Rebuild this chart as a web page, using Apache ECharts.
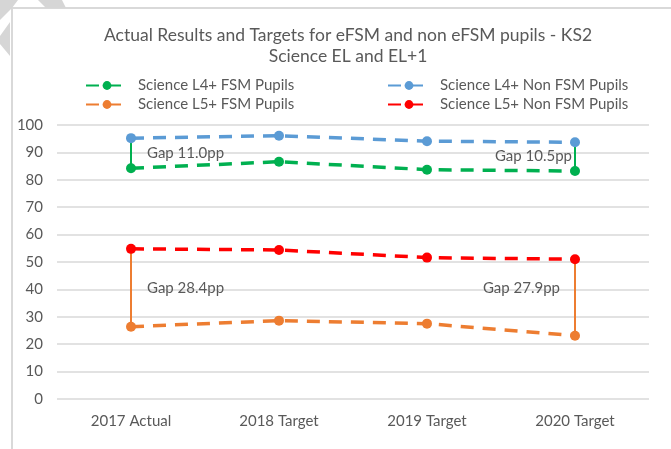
<!DOCTYPE html>
<html>
<head>
<meta charset="utf-8">
<script src="https://cdn.jsdelivr.net/npm/echarts@6/dist/echarts.min.js"></script>
<style>
  html, body { margin: 0; padding: 0; background: #fff; }
  #chart { width: 671px; height: 449px; }
</style>
</head>
<body>
<div id="chart"></div>
<script>
// categories and values
const categories = ['2017 Actual', '2018 Target', '2019 Target', '2020 Target'];
const l4Fsm = [84.2, 86.6, 83.7, 83.2];
const l4NonFsm = [95.2, 96.1, 94.1, 93.7];
const l5Fsm = [26.4, 28.6, 27.5, 23.1];
const l5NonFsm = [54.8, 54.4, 51.6, 51.0];

const names = ['Science L4+ FSM Pupils', 'Science L4+ Non FSM Pupils',
               'Science L5+ FSM Pupils', 'Science L5+ Non FSM Pupils'];
const colors = ['#00B050', '#5B9BD5', '#ED7D31', '#FF0000'];

const font = 'Lato, "Open Sans", sans-serif';
const textColor = '#595959';
const last = categories.length - 1;

function gapText(hi, lo) {
    return 'Gap ' + (hi - lo).toFixed(1) + 'pp';
}

function gapLines(hi, lo) {
    return [0, last].map(function (i) {
        return [{coord: [i, lo[i]]}, {coord: [i, hi[i]]}];
    });
}

function gapLabel(i, hi, lo, pos, offset) {
    return {
        coord: [i, (hi[i] + lo[i]) / 2],
        symbolSize: 0,
        label: {
            show: true,
            position: pos,
            distance: 0,
            offset: offset,
            formatter: gapText(hi[i], lo[i]),
            color: textColor,
            fontFamily: font,
            fontSize: 15
        }
    };
}

function lineSeries(name, data, color, extra) {
    const s = {
        name: name,
        type: 'line',
        data: data,
        symbol: 'circle',
        symbolSize: 10,
        z: 3,
        itemStyle: {color: color},
        lineStyle: {color: color, width: 3.5, type: [13, 9]}
    };
    return Object.assign(s, extra || {});
}

function gapMarks(hi, lo, color, labels) {
    return {
        markLine: {
            silent: true,
            symbol: 'none',
            z: 2,
            label: {show: false},
            lineStyle: {color: color, width: 2, type: 'solid'},
            emphasis: {disabled: true},
            data: gapLines(hi, lo)
        },
        markPoint: {
            silent: true,
            symbol: 'circle',
            data: labels
        }
    };
}

const legendText = {color: textColor, fontFamily: font, fontSize: 15, padding: [0, 0, 0, 5]};

const chart = echarts.init(document.getElementById('chart'), null, {renderer: 'canvas'});

const option = {
    animation: false,
    backgroundColor: '#fff',
    title: {
        text: 'Actual Results and Targets for eFSM and non eFSM pupils - KS2\nScience EL and EL+1',
        left: 343,
        textAlign: 'center',
        top: 20,
        textStyle: {
            color: textColor,
            fontFamily: font,
            fontSize: 17.5,
            fontWeight: 'normal',
            lineHeight: 21
        }
    },
    legend: [
        {
            data: [names[0], names[2]],
            left: 80,
            top: 73,
            orient: 'vertical',
            itemWidth: 42,
            itemHeight: 11,
            itemGap: 4,
            textStyle: legendText
        },
        {
            data: [names[1], names[3]],
            left: 382,
            top: 73,
            orient: 'vertical',
            itemWidth: 42,
            itemHeight: 11,
            itemGap: 4,
            textStyle: legendText
        }
    ],
    grid: {left: 57, right: 22, top: 125, bottom: 50, containLabel: false},
    xAxis: {
        type: 'category',
        data: categories,
        boundaryGap: true,
        axisLine: {show: false},
        axisTick: {show: false},
        axisLabel: {color: textColor, fontFamily: font, fontSize: 15, margin: 15}
    },
    yAxis: {
        type: 'value',
        min: 0,
        max: 100,
        interval: 10,
        axisLine: {show: false},
        axisTick: {show: false},
        axisLabel: {color: textColor, fontFamily: font, fontSize: 15, margin: 14},
        splitLine: {lineStyle: {color: '#d9d9d9', width: 1.5}}
    },
    graphic: [
        {
            type: 'rect',
            shape: {x: 12, y: 8, width: 700, height: 500},
            style: {fill: 'none', stroke: '#d9d9d9', lineWidth: 2},
            silent: true
        },
        {
            type: 'polygon',
            shape: {points: [[0, 0], [18, 0], [12, 8], [0, 20]]},
            style: {fill: '#d6d6d6'},
            silent: true
        },
        {
            type: 'polygon',
            shape: {points: [[38, 0], [62, 0], [66, 8], [46, 8]]},
            style: {fill: '#d6d6d6'},
            silent: true
        },
        {
            type: 'polygon',
            shape: {points: [[0, 36], [10, 22], [10, 56], [0, 44]]},
            style: {fill: '#d6d6d6'},
            silent: true
        }
    ],
    series: [
        lineSeries(names[0], l4Fsm, colors[0], gapMarks(l4NonFsm, l4Fsm, colors[0], [
            gapLabel(0, l4NonFsm, l4Fsm, 'right', [16, 0]),
            gapLabel(last, l4NonFsm, l4Fsm, 'left', [-3, 0])
        ])),
        lineSeries(names[1], l4NonFsm, colors[1]),
        lineSeries(names[2], l5Fsm, colors[2], gapMarks(l5NonFsm, l5Fsm, colors[2], [
            gapLabel(0, l5NonFsm, l5Fsm, 'right', [16, 0]),
            gapLabel(last, l5NonFsm, l5Fsm, 'left', [-15, -9])
        ])),
        lineSeries(names[3], l5NonFsm, colors[3])
    ]
};

chart.setOption(option);
</script>
</body>
</html>
